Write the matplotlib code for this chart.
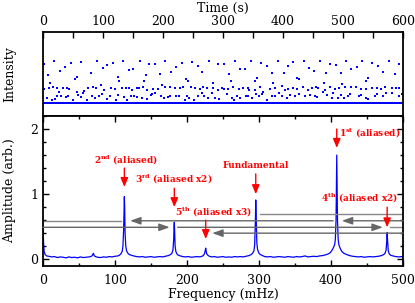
import numpy as np
from matplotlib import pyplot as plt
from matplotlib.ticker import MultipleLocator

# ---- time series (top panel): samples that sit above the baseline ----
upper_t = [2, 9, 12, 19, 29, 36, 46, 53, 56, 63, 80, 90, 100, 107, 116, 125, 127, 134, 143, 150,
           161, 168, 171, 177, 187, 195, 204, 214, 222, 231, 238, 241, 248, 258, 265, 276, 283, 291,
           302, 310, 313, 320, 329, 337, 347, 353, 357, 363, 373, 381, 391, 401, 408, 417, 424, 427, 435, 444,
           452, 462, 472, 479, 488, 496, 505, 514, 523, 532, 539, 542, 549, 559, 566, 577, 586, 593]
upper_i = [0.91, 0.66, 0.48, 1.00, 0.76, 0.84, 0.95, 0.56, 0.61, 0.96, 0.70, 1.00, 0.82, 0.89, 0.94, 0.61, 0.51, 1.00, 0.78, 0.81,
           1.00, 0.51, 0.66, 0.91, 0.91, 0.69, 1.00, 0.74, 0.85, 0.95, 0.56, 0.53, 0.96, 0.88, 0.74, 1.00, 0.47, 0.91,
           0.92, 0.69, 0.51, 0.99, 0.80, 0.80, 0.98, 0.53, 0.59, 0.94, 0.87, 0.72, 1.00, 0.70, 0.88, 0.96, 0.58, 0.57, 0.99, 0.82,
           0.76, 1.00, 0.70, 0.92, 0.90, 0.70, 1.00, 0.80, 0.85, 0.98, 0.51, 0.60, 0.95, 0.88, 0.74, 1.00, 0.69, 0.91]

middle_t = [1, 10, 16, 24, 27, 34, 40, 44, 56, 68, 75, 83, 88, 97, 101, 114, 120, 132, 139, 144, 148,
            156, 160, 167, 174, 184, 192, 198, 203, 211, 220, 229, 234, 247, 253, 262, 267, 273, 284, 291, 298,
            301, 308, 317, 327, 334, 341, 344, 353, 362, 367, 378, 384, 387, 398, 403, 409, 417, 424, 434, 442, 448,
            455, 459, 468, 470, 478, 487, 494, 499, 503, 513, 521, 530, 538, 548, 556, 564, 570, 581, 589, 594]
middle_i = [0.33, 0.35, 0.37, 0.35, 0.26, 0.35, 0.35, 0.33, 0.27, 0.29, 0.35, 0.38, 0.35, 0.43, 0.30, 0.35, 0.33, 0.35, 0.35, 0.35, 0.31,
            0.35, 0.35, 0.39, 0.31, 0.33, 0.33, 0.43, 0.37, 0.39, 0.35, 0.35, 0.39, 0.37, 0.35, 0.33, 0.39, 0.35, 0.35, 0.31, 0.35,
            0.33, 0.33, 0.37, 0.34, 0.35, 0.35, 0.31, 0.31, 0.37, 0.27, 0.34, 0.47, 0.35, 0.41, 0.31, 0.34, 0.35, 0.33, 0.37, 0.31, 0.35,
            0.38, 0.35, 0.48, 0.31, 0.37, 0.34, 0.35, 0.45, 0.38, 0.38, 0.37, 0.34, 0.33, 0.35, 0.35, 0.33, 0.39, 0.35, 0.35, 0.35]

lower_t = [7, 15, 20, 24, 30, 39, 42, 50, 59, 63, 66, 73, 81, 86, 94, 98, 106, 112, 121, 125, 135, 140, 147,
           152, 157, 165, 173, 180, 182, 186, 197, 201, 208, 212, 222, 226, 237, 240, 243, 252, 258, 265, 269, 275, 281, 287, 293,
           306, 315, 319, 323, 328, 338, 342, 349, 355, 360, 365, 373, 381, 387, 393, 398, 406, 412, 420, 426, 437, 445,
           453, 457, 467, 473, 481, 484, 492, 497, 501, 508, 512, 526, 530, 538, 542, 553, 556, 567, 571, 581, 593, 598]
lower_i = [0.12, 0.08, 0.09, 0.16, 0.16, 0.14, 0.17, 0.08, 0.20, 0.14, 0.23, 0.08, 0.17, 0.12, 0.16, 0.21, 0.10, 0.16, 0.08, 0.20, 0.14, 0.08, 0.17,
           0.16, 0.14, 0.12, 0.09, 0.20, 0.21, 0.23, 0.16, 0.12, 0.14, 0.16, 0.16, 0.17, 0.08, 0.17, 0.12, 0.08, 0.17, 0.23, 0.16, 0.12, 0.23, 0.12, 0.09,
           0.21, 0.12, 0.08, 0.16, 0.13, 0.16, 0.17, 0.13, 0.22, 0.16, 0.21, 0.08, 0.17, 0.16, 0.23, 0.16, 0.12, 0.20, 0.16, 0.21, 0.17, 0.20,
           0.17, 0.14, 0.27, 0.20, 0.12, 0.23, 0.12, 0.20, 0.13, 0.16, 0.21, 0.16, 0.20, 0.13, 0.09, 0.17, 0.21, 0.16, 0.23, 0.25, 0.16, 0.21]

baseline_level = 0.0
duration = 600

# ---- amplitude spectrum (bottom panel) ----
spec_f = [0, 0.8, 1.6, 3, 5, 8, 12, 16, 20, 24, 28, 32, 36, 40, 44, 48, 52, 56, 60, 64,
          66, 68, 69, 70, 71, 72, 74,
          76, 80, 84, 88, 92, 96, 100, 104,
          106, 108, 110, 111, 112, 112.6, 113, 113.4, 114, 115, 116, 118, 120, 123, 126,
          130, 134, 138, 142, 146, 150, 154, 158, 162, 166, 170, 174, 177,
          179, 180.5, 181.5, 182, 182.4, 182.8, 183.5, 184.5, 186, 188, 191,
          194, 198, 202, 206, 210, 214, 218, 221,
          223, 224.5, 225.5, 226, 226.5, 227.5, 229, 231,
          234, 238, 242, 246, 250, 254, 258, 262, 266, 270, 274, 278, 282, 286, 289,
          291, 293, 294, 295, 295.5, 296, 297, 298, 300, 302, 305,
          308, 312, 316, 320, 324, 328, 332, 336, 340, 344, 348, 352, 356, 360, 364, 368, 372, 376, 380, 384, 388, 392, 396, 399,
          401, 403, 405, 406, 407, 407.6, 408, 408.4, 409, 410, 411, 413, 415, 418, 422, 426,
          430, 434, 438, 442, 446, 450, 454, 458, 462, 466, 470, 473,
          475, 476.5, 477.5, 478, 478.5, 479.5, 481, 483, 486,
          490, 494, 498, 500]
spec_a = [0.52, 0.25, 0.12, 0.07, 0.05, 0.045, 0.035, 0.04, 0.025, 0.035, 0.03, 0.02, 0.035, 0.025, 0.03, 0.02, 0.035, 0.025, 0.03, 0.035,
          0.04, 0.05, 0.07, 0.09, 0.06, 0.045, 0.035,
          0.03, 0.025, 0.035, 0.03, 0.04, 0.035, 0.045, 0.05,
          0.06, 0.08, 0.12, 0.2, 0.45, 0.8, 0.96, 0.8, 0.4, 0.2, 0.13, 0.09, 0.07, 0.06, 0.05,
          0.04, 0.035, 0.04, 0.03, 0.035, 0.04, 0.03, 0.035, 0.04, 0.035, 0.045, 0.055, 0.07,
          0.09, 0.14, 0.3, 0.5, 0.57, 0.45, 0.2, 0.12, 0.08, 0.06, 0.05,
          0.04, 0.035, 0.04, 0.03, 0.035, 0.04, 0.035, 0.045,
          0.06, 0.09, 0.14, 0.17, 0.13, 0.08, 0.06, 0.045,
          0.035, 0.04, 0.03, 0.035, 0.04, 0.03, 0.035, 0.03, 0.04, 0.035, 0.04, 0.035, 0.045, 0.055, 0.07,
          0.09, 0.13, 0.22, 0.6, 0.91, 0.7, 0.25, 0.15, 0.09, 0.07, 0.055,
          0.04, 0.035, 0.04, 0.03, 0.035, 0.04, 0.035, 0.03, 0.04, 0.035, 0.03, 0.04, 0.035, 0.04, 0.05, 0.035, 0.04, 0.045, 0.04, 0.05, 0.055, 0.065, 0.08, 0.1,
          0.13, 0.17, 0.22, 0.3, 0.6, 1.2, 1.6, 1.25, 0.6, 0.3, 0.22, 0.16, 0.12, 0.09, 0.07, 0.055,
          0.045, 0.04, 0.035, 0.04, 0.03, 0.035, 0.04, 0.035, 0.04, 0.045, 0.055, 0.07,
          0.09, 0.14, 0.28, 0.41, 0.3, 0.13, 0.08, 0.06, 0.05,
          0.04, 0.035, 0.04, 0.035]

# red labels: text, text x, text y, arrow x, arrow top, arrow tip, alignment
label_text = [r'2$^{\mathbf{nd}}$ (aliased)', r'3$^{\mathbf{rd}}$ (aliased x2)', r'5$^{\mathbf{th}}$ (aliased x3)',
              'Fundamental', r'1$^{\mathbf{st}}$ (aliased)', r'4$^{\mathbf{th}}$ (aliased x2)']
label_x = [115, 182, 237, 296, 411, 440]
label_y = [1.52, 1.23, 0.72, 1.44, 1.93, 0.93]
label_ha = ['center', 'center', 'center', 'center', 'left', 'center']
arrow_f = [113, 182.4, 226, 295.5, 408, 478]
arrow_top = [1.40, 1.09, 0.60, 1.31, 2.00, 0.80]
arrow_tip = [1.11, 0.80, 0.31, 1.00, 1.71, 0.49]

# gray reflection paths: level, start, end, with head
path_level = [0.69, 0.59, 0.59, 0.59, 0.49, 0.49, 0.49, 0.40]
path_start = [301, 500, 403, 108, 0, 187, 482, 500]
path_end = [500, 415, 121, 0, 176, 472, 500, 235]
path_head = [False, True, True, False, True, True, False, True]

plt.rcParams['font.family'] = 'DejaVu Serif'
plt.rcParams['mathtext.fontset'] = 'dejavuserif'

fig = plt.figure(figsize=(4.15, 3.03), dpi=100)
ax1 = fig.add_axes([43 / 415, 1 - 116 / 303, 360 / 415, 84 / 303])
ax2 = fig.add_axes([43 / 415, 1 - 265.7 / 303, 360 / 415, 149.7 / 303])

blue = '#0000ff'

# top panel
elevated = set(upper_t) | set(middle_t) | set(lower_t)
base_t = [t for t in range(duration) if t not in elevated]
ax1.plot(base_t, [baseline_level] * len(base_t), 's', color=blue, ms=1.6, mew=0)
ax1.plot(lower_t, lower_i, 's', color=blue, ms=2.0, mew=0)
ax1.plot(middle_t, middle_i, 's', color=blue, ms=2.0, mew=0)
ax1.plot(upper_t, upper_i, 's', color=blue, ms=2.0, mew=0)
ax1.set_xlim(0, 600)
ax1.set_ylim(-0.3, 1.67)
ax1.xaxis.tick_top()
ax1.xaxis.set_label_position('top')
ax1.xaxis.set_major_locator(MultipleLocator(100))
ax1.xaxis.set_minor_locator(MultipleLocator(50))
ax1.tick_params(axis='x', which='both', direction='in', top=True, bottom=False, length=4, width=1, labelsize=9, pad=3)
ax1.set_yticks([])
ax1.set_xlabel('Time (s)', fontsize=9, labelpad=2)
ax1.set_ylabel('Intensity', fontsize=9)
ax1.yaxis.set_label_coords(-0.075, 0.5)

# bottom panel
ax2.plot(spec_f, spec_a, color=blue, lw=0.9)
for lev, s, e, h in zip(path_level, path_start, path_end, path_head):
    if h:
        ax2.annotate('', xy=(e, lev), xytext=(s, lev),
                     arrowprops=dict(arrowstyle='-|>,head_length=0.7,head_width=0.25',
                                     color='#666666', lw=1.0, shrinkA=0, shrinkB=0, mutation_scale=9))
    else:
        ax2.plot([s, e], [lev, lev], color='#888888', lw=1.0)

for txt, tx, ty, ha, af, at, ap in zip(label_text, label_x, label_y, label_ha, arrow_f, arrow_top, arrow_tip):
    ax2.text(tx, ty, txt, color='red', fontsize=6.5, fontweight='bold', ha=ha, va='center')
    ax2.annotate('', xy=(af, ap), xytext=(af, at),
                 arrowprops=dict(arrowstyle='-|>,head_length=0.6,head_width=0.25',
                                 color='red', lw=1.0, shrinkA=0, shrinkB=0, mutation_scale=9))

ax2.set_xlim(0, 500)
ax2.set_ylim(-0.1, 2.2)
ax2.xaxis.set_major_locator(MultipleLocator(100))
ax2.xaxis.set_minor_locator(MultipleLocator(50))
ax2.yaxis.set_major_locator(MultipleLocator(1))
ax2.yaxis.set_minor_locator(MultipleLocator(0.2))
ax2.tick_params(which='both', direction='in', top=True, right=True, width=1, labelsize=9)
ax2.tick_params(axis='x', which='major', pad=6)
ax2.tick_params(which='major', length=4)
ax2.tick_params(which='minor', length=2.5)
ax2.set_xlabel('Frequency (mHz)', fontsize=9, labelpad=1)
ax2.set_ylabel('Amplitude (arb.)', fontsize=9)
ax2.yaxis.set_label_coords(-0.075, 0.5)

for ax in (ax1, ax2):
    for sp in ax.spines.values():
        sp.set_linewidth(1.3)

fig.savefig('out.png', dpi=100)
